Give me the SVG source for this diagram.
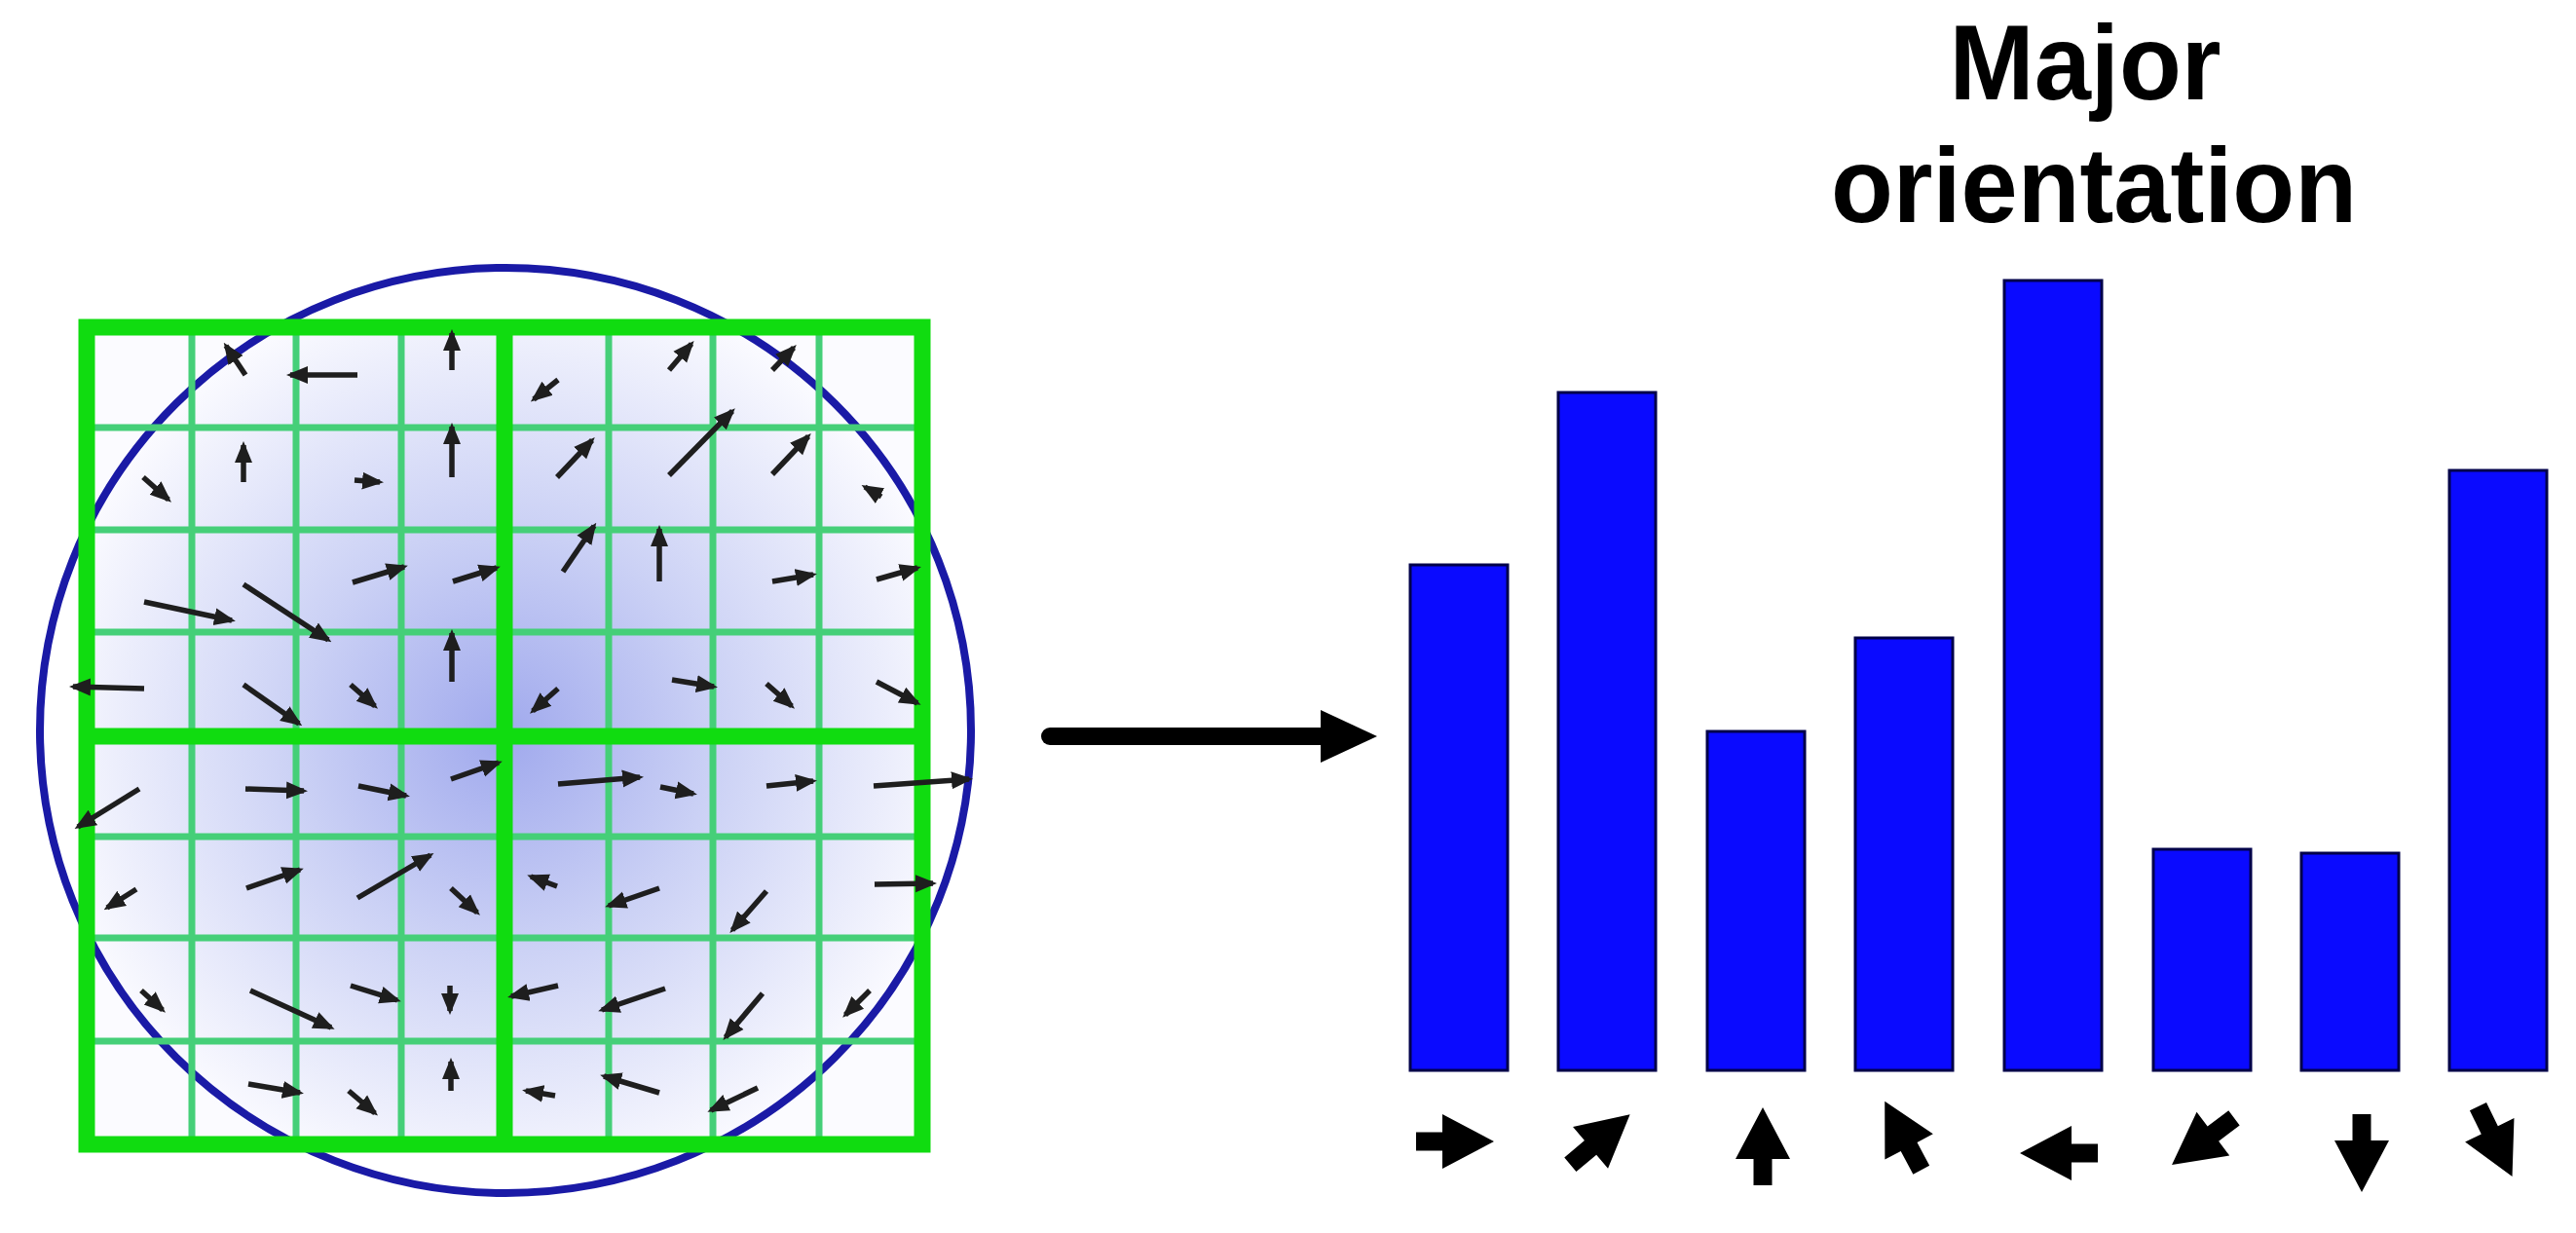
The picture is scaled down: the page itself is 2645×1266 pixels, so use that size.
<svg xmlns="http://www.w3.org/2000/svg" width="2645" height="1266" viewBox="0 0 2645 1266">
<style>
.thin{stroke:#45cf78;stroke-width:7;fill:none}
.thick{stroke:#10dc10;stroke-width:17;fill:none;stroke-linecap:square}
.ga{stroke:#1e1e1e;stroke-width:5.5;marker-end:url(#ah)}
.bar{fill:#0a0aff;stroke:#00004a;stroke-width:3}
.fat{fill:#000}
.title{font-family:"Liberation Sans",Arial,sans-serif;font-weight:bold;font-size:110px;fill:#000;text-anchor:middle}
</style>
<defs>
<radialGradient id="bg" cx="518" cy="756" r="480" gradientUnits="userSpaceOnUse">
<stop offset="0" stop-color="#a0a9ed"/>
<stop offset="0.45" stop-color="#cbd1f5"/>
<stop offset="1" stop-color="#fbfbff"/>
</radialGradient>
<marker id="ah" markerUnits="userSpaceOnUse" markerWidth="22" markerHeight="20" refX="18" refY="10" orient="auto">
<path d="M0,1 L22,10 L0,19 z" fill="#1e1e1e"/>
</marker>
<marker id="bigHead" markerUnits="userSpaceOnUse" markerWidth="60" markerHeight="54" refX="4" refY="27" orient="auto">
<path d="M0,0 L58,27 L0,54 z" fill="#000"/>
</marker>
<path id="fatArrow" d="M-40,-9.5 L-13,-9.5 L-13,-28 L40,0 L-13,28 L-13,9.5 L-40,9.5 Z"/>
</defs>
<rect width="2645" height="1266" fill="#fff"/>

<g id="descriptor-patch">
<rect x="89" y="336" width="858" height="839" fill="url(#bg)"/>
<ellipse id="gaussian-window" cx="519" cy="750" rx="478" ry="475" fill="none" stroke="#1a1aa6" stroke-width="8"/>
<g id="grid">
<path class="thin" d="M197,336V1175M304,336V1175M412,336V1175M625,336V1175M732,336V1175M841,336V1175M89,439H947M89,544H947M89,649H947M89,859H947M89,963H947M89,1069H947"/>
<path class="thick" d="M89,336H947V1175H89Z M518,336V1175 M89,756H947"/>
</g>
<g id="gradients">
<line class="ga" x1="252" y1="385" x2="232" y2="355"/>
<line class="ga" x1="367" y1="385" x2="298" y2="385"/>
<line class="ga" x1="464" y1="380" x2="464" y2="342"/>
<line class="ga" x1="147" y1="490" x2="173" y2="513"/>
<line class="ga" x1="250" y1="495" x2="250" y2="457"/>
<line class="ga" x1="364" y1="493" x2="390" y2="495"/>
<line class="ga" x1="464" y1="490" x2="464" y2="438"/>
<line class="ga" x1="148" y1="618" x2="238" y2="637"/>
<line class="ga" x1="250" y1="600" x2="337" y2="657"/>
<line class="ga" x1="362" y1="598" x2="415" y2="582"/>
<line class="ga" x1="465" y1="597" x2="510" y2="583"/>
<line class="ga" x1="148" y1="707" x2="75" y2="705"/>
<line class="ga" x1="250" y1="703" x2="307" y2="743"/>
<line class="ga" x1="360" y1="703" x2="385" y2="725"/>
<line class="ga" x1="464" y1="700" x2="464" y2="650"/>
<line class="ga" x1="573" y1="390" x2="548" y2="410"/>
<line class="ga" x1="687" y1="380" x2="710" y2="353"/>
<line class="ga" x1="793" y1="380" x2="815" y2="357"/>
<line class="ga" x1="572" y1="490" x2="608" y2="452"/>
<line class="ga" x1="687" y1="488" x2="752" y2="422"/>
<line class="ga" x1="793" y1="487" x2="830" y2="448"/>
<line class="ga" x1="905" y1="510" x2="888" y2="500"/>
<line class="ga" x1="578" y1="587" x2="610" y2="540"/>
<line class="ga" x1="677" y1="597" x2="677" y2="543"/>
<line class="ga" x1="793" y1="597" x2="835" y2="590"/>
<line class="ga" x1="900" y1="595" x2="942" y2="583"/>
<line class="ga" x1="573" y1="707" x2="547" y2="730"/>
<line class="ga" x1="690" y1="698" x2="733" y2="705"/>
<line class="ga" x1="787" y1="702" x2="813" y2="725"/>
<line class="ga" x1="900" y1="700" x2="942" y2="722"/>
<line class="ga" x1="143" y1="810" x2="80" y2="849"/>
<line class="ga" x1="252" y1="810" x2="312" y2="812"/>
<line class="ga" x1="368" y1="807" x2="417" y2="817"/>
<line class="ga" x1="463" y1="800" x2="512" y2="783"/>
<line class="ga" x1="140" y1="913" x2="110" y2="932"/>
<line class="ga" x1="253" y1="912" x2="308" y2="893"/>
<line class="ga" x1="367" y1="922" x2="442" y2="878"/>
<line class="ga" x1="463" y1="912" x2="490" y2="937"/>
<line class="ga" x1="145" y1="1017" x2="167" y2="1037"/>
<line class="ga" x1="257" y1="1017" x2="340" y2="1055"/>
<line class="ga" x1="360" y1="1012" x2="408" y2="1027"/>
<line class="ga" x1="462" y1="1012" x2="462" y2="1038"/>
<line class="ga" x1="255" y1="1113" x2="308" y2="1122"/>
<line class="ga" x1="358" y1="1120" x2="385" y2="1143"/>
<line class="ga" x1="463" y1="1120" x2="463" y2="1090"/>
<line class="ga" x1="573" y1="805" x2="657" y2="798"/>
<line class="ga" x1="678" y1="808" x2="712" y2="815"/>
<line class="ga" x1="787" y1="807" x2="835" y2="802"/>
<line class="ga" x1="897" y1="807" x2="995" y2="800"/>
<line class="ga" x1="572" y1="910" x2="545" y2="900"/>
<line class="ga" x1="677" y1="912" x2="625" y2="930"/>
<line class="ga" x1="787" y1="915" x2="752" y2="955"/>
<line class="ga" x1="898" y1="908" x2="958" y2="907"/>
<line class="ga" x1="573" y1="1012" x2="525" y2="1023"/>
<line class="ga" x1="683" y1="1015" x2="618" y2="1037"/>
<line class="ga" x1="783" y1="1020" x2="745" y2="1065"/>
<line class="ga" x1="893" y1="1017" x2="868" y2="1042"/>
<line class="ga" x1="570" y1="1125" x2="540" y2="1120"/>
<line class="ga" x1="677" y1="1122" x2="620" y2="1105"/>
<line class="ga" x1="778" y1="1117" x2="730" y2="1140"/>
</g>
</g>

<g id="connectors">
<line id="to-histogram" x1="1078" y1="756" x2="1360" y2="756" stroke="#000" stroke-width="18" stroke-linecap="round" marker-end="url(#bigHead)"/>
</g>

<g id="histogram">
<g id="bin-0"><rect class="bar" x="1448" y="580" width="100" height="519"/><use href="#fatArrow" class="fat" transform="translate(1494,1172)"/></g>
<g id="bin-1"><rect class="bar" x="1600" y="403" width="100" height="696"/><use href="#fatArrow" class="fat" transform="translate(1643,1170) rotate(-40)"/></g>
<g id="bin-2"><rect class="bar" x="1753" y="751" width="100" height="348"/><use href="#fatArrow" class="fat" transform="translate(1810,1177) rotate(-90)"/></g>
<g id="bin-3"><rect class="bar" x="1905" y="655" width="100" height="444"/><use href="#fatArrow" class="fat" transform="translate(1954,1166) rotate(-118)"/></g>
<g id="bin-4"><rect class="bar" x="2058" y="288" width="100" height="811"/><use href="#fatArrow" class="fat" transform="translate(2114,1184) rotate(180)"/></g>
<g id="bin-5"><rect class="bar" x="2211" y="872" width="100" height="227"/><use href="#fatArrow" class="fat" transform="translate(2262,1172) rotate(143)"/></g>
<g id="bin-6"><rect class="bar" x="2363" y="876" width="100" height="223"/><use href="#fatArrow" class="fat" transform="translate(2425,1184) rotate(90)"/></g>
<g id="bin-7"><rect class="bar" x="2515" y="483" width="100" height="616"/><use href="#fatArrow" class="fat" transform="translate(2562,1172) rotate(64)"/></g>
</g>

<g id="label-major-orientation">
<text class="title" x="2141" y="102" textLength="279" lengthAdjust="spacingAndGlyphs">Major</text>
<text class="title" x="2150" y="228" textLength="540" lengthAdjust="spacingAndGlyphs">orientation</text>
</g>
</svg>
